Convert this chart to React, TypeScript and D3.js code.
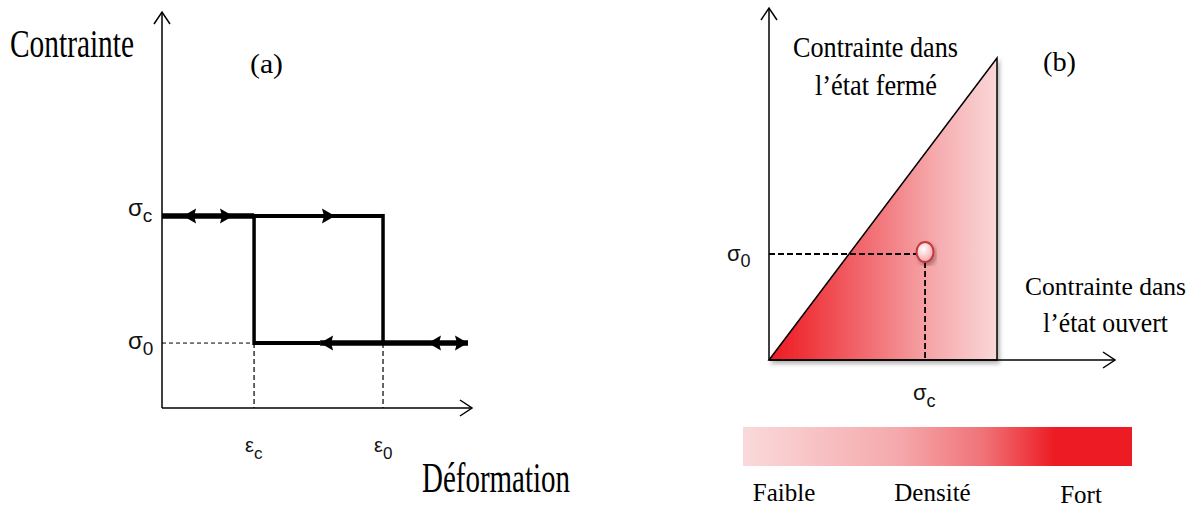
import React from 'react';
import * as d3 from 'd3';

// (a) stress-strain hysteresis, abstract units 0..10 on both axes
const strainNames = ['c', '0'];
const strainValues = [2.97, 7.13];
const stressNames = ['c', '0'];
const stressValues = [4.85, 1.64];

// loop branches: [x0, x1, y, thick?]
const branchX0 = [0, 2.97, 2.97, 5.1];
const branchX1 = [2.97, 7.13, 5.1, 9.87];
const branchY = [4.85, 4.85, 1.64, 1.64];
const branchThick = [true, false, false, true];

// arrowheads on the loop: tip x, level, direction
const arrowX = [0.68, 2.29, 5.58, 5.1, 8.58, 9.87];
const arrowY = [4.85, 4.85, 4.85, 1.64, 1.64, 1.64];
const arrowDir = [-1, 1, 1, -1, -1, 1];

// (b) Preisach plane
const openMax = 6.59;
const closedMax = 8.58;
const pointX = [4.51];
const pointY = [3.04];

// density colour bar
const densityLabels = ['Faible', 'Densité', 'Fort'];

const serif = '"Liberation Serif", "Times New Roman", serif';
const sans = '"Liberation Sans", Arial, sans-serif';

const App = () => {
  const W = 1195;
  const H = 510;

  const xL = d3.scaleLinear().domain([0, 10]).range([162, 472]);
  const yL = d3.scaleLinear().domain([0, 10]).range([408, 12]);

  const xR = d3.scaleLinear().domain([0, 10]).range([769, 1115]);
  const yR = d3.scaleLinear().domain([0, 10]).range([360, 8]);

  const xBar = d3.scaleLinear().domain([0, 1]).range([743, 1132]);
  const xLab = d3.scalePoint().domain(densityLabels).range([784, 1081]);

  const head = (tx, ty, dir) =>
    `M${tx},${ty} L${tx - dir * 13},${ty - 7.5} L${tx - dir * 11},${ty} L${tx - dir * 13},${ty + 7.5} Z`;

  const tri = d3.line()([
    [xR(0), yR(0)],
    [xR(openMax), yR(closedMax)],
    [xR(openMax), yR(0)],
  ]) + 'Z';

  const label = (x, y, main, sub, size, subSize, dy) => (
    <text x={x} y={y} fontFamily={sans} fontSize={size} fill="#111">
      {main}
      <tspan fontSize={subSize} dy={dy}>{sub}</tspan>
    </text>
  );

  return (
    <svg width={W} height={H} style={{ position: 'absolute', left: 0, top: 0, background: '#fff' }}>
      <defs>
        <linearGradient id="triGrad" gradientUnits="userSpaceOnUse" x1={xR(0)} x2={xR(openMax)} y1={0} y2={0}>
          <stop offset="0" stopColor="#ED1C24" />
          <stop offset="0.12" stopColor="#EE2E34" />
          <stop offset="0.5" stopColor="#F27A7F" />
          <stop offset="0.75" stopColor="#F6AEB1" />
          <stop offset="1" stopColor="#FAD7D8" />
        </linearGradient>
        <linearGradient id="barGrad" x1="0" x2="1" y1="0" y2="0">
          <stop offset="0" stopColor="#FAD9DA" />
          <stop offset="0.4" stopColor="#F5A9AC" />
          <stop offset="0.62" stopColor="#F07277" />
          <stop offset="0.8" stopColor="#ED1C24" />
          <stop offset="1" stopColor="#ED1C24" />
        </linearGradient>
        <radialGradient id="dotGrad" cx="0.4" cy="0.35" r="0.7">
          <stop offset="0" stopColor="#FFFFFF" />
          <stop offset="1" stopColor="#F3A3A6" />
        </radialGradient>
        <filter id="shadow" x="-10%" y="-10%" width="130%" height="130%">
          <feDropShadow dx="2" dy="3" stdDeviation="2" floodColor="#000" floodOpacity="0.3" />
        </filter>
      </defs>

      {/* ---------- (a) ---------- */}
      <g stroke="#000" fill="none">
        <line x1={xL(0)} y1={yL(0)} x2={xL(0)} y2={yL(10)} strokeWidth={1.5} />
        <path d={`M${xL(0) - 8},${yL(10) + 12} L${xL(0)},${yL(10)} L${xL(0) + 8},${yL(10) + 12}`} strokeWidth={1.5} />
        <line x1={xL(0)} y1={yL(0)} x2={xL(10)} y2={yL(0)} strokeWidth={1.5} />
        <path d={`M${xL(10) - 12},${yL(0) - 8} L${xL(10)},${yL(0)} L${xL(10) - 12},${yL(0) + 8}`} strokeWidth={1.5} />

        {/* dashed guides */}
        <line x1={xL(0)} y1={yL(stressValues[1])} x2={xL(strainValues[0])} y2={yL(stressValues[1])} strokeWidth={1} strokeDasharray="4,3" />
        {strainValues.map((v, i) => (
          <line key={i} x1={xL(v)} y1={yL(stressValues[1])} x2={xL(v)} y2={yL(0)} strokeWidth={1.2} strokeDasharray="5,3" />
        ))}

        {/* loop */}
        {branchX0.map((x0, i) => (
          <line key={'b' + i} x1={xL(x0)} x2={xL(branchX1[i])} y1={yL(branchY[i])} y2={yL(branchY[i])}
            strokeWidth={branchThick[i] ? 5.5 : 4} />
        ))}
        {strainValues.map((v, i) => (
          <line key={'v' + i} x1={xL(v)} x2={xL(v)} y1={yL(stressValues[0]) - 2} y2={yL(stressValues[1]) + 2} strokeWidth={3.5} />
        ))}
      </g>
      <g fill="#000">
        {arrowX.map((x, i) => (
          <path key={i} d={head(xL(x), yL(arrowY[i]), arrowDir[i])} />
        ))}
      </g>

      {stressValues.map((v, i) =>
        <g key={'sl' + i}>{label(xL(0) - 34, yL(v) + (i === 0 ? 0 : 6), 'σ', stressNames[i], 24, 19, 6)}</g>
      )}
      {strainValues.map((v, i) =>
        <g key={'el' + i}>{label(xL(v) - 9, 452, 'ε', strainNames[i], 20, 17, 7)}</g>
      )}

      <text x={10} y={57} fontFamily={serif} fontSize={40} textLength={124} lengthAdjust="spacingAndGlyphs">Contrainte</text>
      <text x={250} y={73} fontFamily={serif} fontSize={28} textLength={33} lengthAdjust="spacingAndGlyphs">(a)</text>
      <text x={422} y={492} fontFamily={serif} fontSize={42} textLength={148} lengthAdjust="spacingAndGlyphs">Déformation</text>

      {/* ---------- (b) ---------- */}
      <path d={tri} fill="url(#triGrad)" stroke="#000" strokeWidth={1.5} filter="url(#shadow)" />
      <g stroke="#000" fill="none" strokeWidth={1.5}>
        <line x1={xR(0)} y1={yR(0)} x2={xR(0)} y2={yR(10)} />
        <path d={`M${xR(0) - 8},${yR(10) + 12} L${xR(0)},${yR(10)} L${xR(0) + 8},${yR(10) + 12}`} />
        <line x1={xR(0)} y1={yR(0)} x2={xR(10)} y2={yR(0)} />
        <path d={`M${xR(10) - 12},${yR(0) - 8} L${xR(10)},${yR(0)} L${xR(10) - 12},${yR(0) + 8}`} />
      </g>
      {pointX.map((px, i) => (
        <g key={'p' + i}>
          <line x1={xR(0)} y1={yR(pointY[i]) + 1} x2={xR(px)} y2={yR(pointY[i]) + 1} stroke="#000" strokeWidth={1.8} strokeDasharray="6,3" />
          <line x1={xR(px)} y1={yR(pointY[i])} x2={xR(px)} y2={yR(0)} stroke="#000" strokeWidth={1.8} strokeDasharray="6,3" />
          <ellipse cx={xR(px)} cy={yR(pointY[i]) - 1} rx={8.5} ry={10} fill="url(#dotGrad)" stroke="#C8363B" strokeWidth={2} filter="url(#shadow)" />
          {label(xR(0) - 42, yR(pointY[i]) + 8, 'σ', '0', 22, 18, 6)}
          {label(xR(px) - 12, 400, 'σ', 'c', 22, 18, 7)}
        </g>
      ))}

      <text x={793} y={57} fontFamily={serif} fontSize={30} textLength={165} lengthAdjust="spacingAndGlyphs">Contrainte dans</text>
      <text x={815} y={95} fontFamily={serif} fontSize={30} textLength={122} lengthAdjust="spacingAndGlyphs">l’état fermé</text>
      <text x={1043} y={71} fontFamily={serif} fontSize={28} textLength={33} lengthAdjust="spacingAndGlyphs">(b)</text>
      <text x={1025} y={295} fontFamily={serif} fontSize={26} textLength={161} lengthAdjust="spacingAndGlyphs">Contrainte dans</text>
      <text x={1043} y={332} fontFamily={serif} fontSize={28} textLength={125} lengthAdjust="spacingAndGlyphs">l’état ouvert</text>

      {/* density bar */}
      <rect x={xBar(0)} y={427} width={xBar(1) - xBar(0)} height={39} fill="url(#barGrad)" />
      {densityLabels.map((d) => (
        <text key={d} x={xLab(d)} y={d === 'Fort' ? 503 : 501} textAnchor="middle" fontFamily={serif} fontSize={25}>{d}</text>
      ))}
    </svg>
  );
};

export default App;
